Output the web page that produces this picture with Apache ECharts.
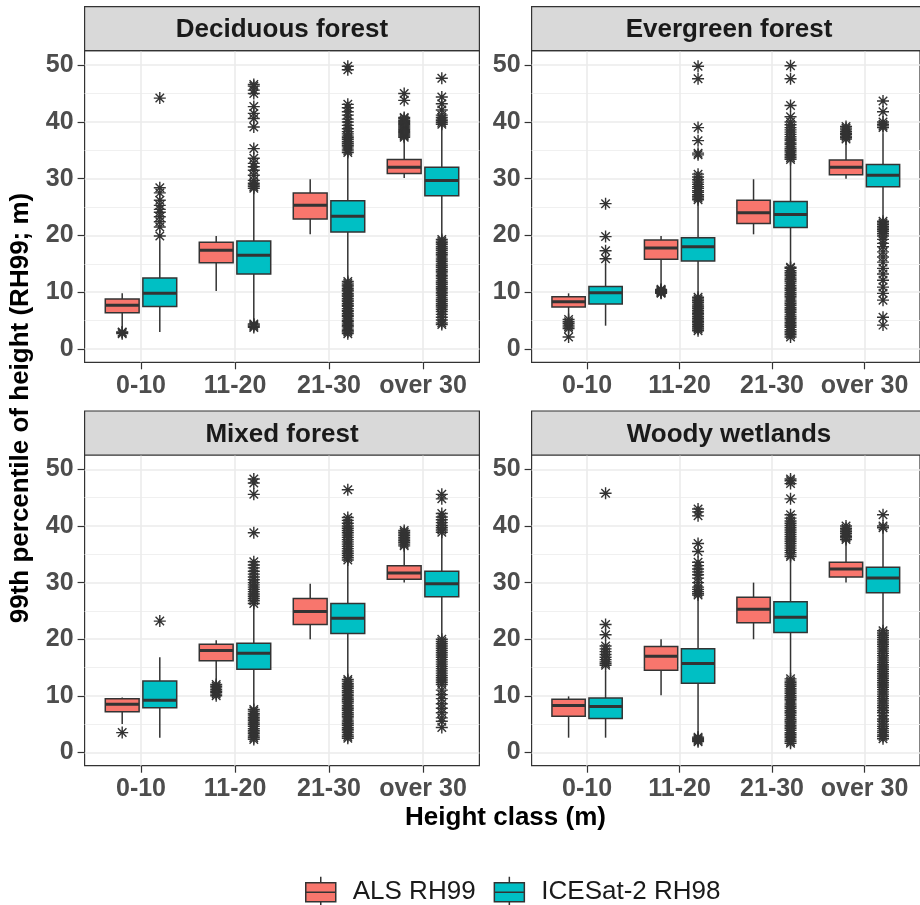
<!DOCTYPE html>
<html>
<head>
<meta charset="utf-8">
<script src="https://cdn.jsdelivr.net/npm/echarts@6/dist/echarts.min.js"></script>
<style>
  html, body { margin: 0; padding: 0; background: #ffffff; }
  #chart { width: 920px; height: 905px; }
</style>
</head>
<body>
<div id="chart"></div>
<script>
// ---- data -------------------------------------------------------------
const categories = ['0-10', '11-20', '21-30', 'over 30'];
const facetTitles = ['Deciduous forest', 'Evergreen forest', 'Mixed forest', 'Woody wetlands'];
const seriesNames = ['ALS RH99', 'ICESat-2 RH98'];
const yTickValues = [0, 10, 20, 30, 40, 50];
const yMinorValues = [5, 15, 25, 35, 45];

// box statistics per class: [lower whisker, Q1, median, Q3, upper whisker]
const decAlsBoxes = [[3.7, 6.4, 7.7, 8.8, 9.8], [10.2, 15.2, 17.4, 18.8, 19.9], [20.2, 22.9, 25.3, 27.5, 29.9], [30.1, 30.9, 32.0, 33.4, 37.1]];
const decIceBoxes = [[3.0, 7.5, 9.8, 12.5, 18.9], [4.5, 13.2, 16.5, 19.0, 28.1], [12.1, 20.6, 23.4, 26.1, 34.4], [19.6, 27.0, 29.7, 32.0, 39.3]];
const eveAlsBoxes = [[5.5, 7.4, 8.3, 9.2, 9.8], [11.0, 15.8, 17.8, 19.2, 19.9], [20.2, 22.1, 24.0, 26.2, 29.9], [30.0, 30.7, 32.0, 33.3, 36.8]];
const eveIceBoxes = [[4.1, 7.9, 9.9, 11.0, 15.0], [9.3, 15.5, 18.0, 19.6, 26.0], [14.5, 21.4, 23.7, 26.0, 33.2], [22.7, 28.6, 30.6, 32.5, 38.0]];
const mixAlsBoxes = [[5.0, 7.2, 8.5, 9.5, 9.7], [12.2, 16.2, 18.0, 19.1, 19.8], [20.0, 22.6, 24.9, 27.2, 29.8], [30.0, 30.6, 31.7, 33.0, 36.3]];
const mixIceBoxes = [[2.6, 7.9, 9.2, 12.6, 16.8], [8.3, 14.7, 17.5, 19.3, 26.0], [13.3, 21.0, 23.7, 26.3, 33.9], [20.4, 27.5, 29.8, 32.0, 38.6]];
const wetAlsBoxes = [[2.6, 6.4, 8.3, 9.4, 9.9], [10.1, 14.5, 17.0, 18.7, 20.0], [20.0, 22.9, 25.3, 27.4, 30.0], [30.0, 31.0, 32.4, 33.6, 37.4]];
const wetIceBoxes = [[2.6, 6.0, 8.1, 9.6, 14.4], [3.0, 12.2, 15.7, 18.3, 27.6], [13.5, 21.2, 23.9, 26.6, 34.3], [21.7, 28.2, 30.8, 32.7, 39.3]];

// outlying values per class
const decAlsOutliers = [
  [2.7, 2.9, 3.0],
  [],
  [],
  [37.3, 37.5, 37.7, 37.9, 38.1, 38.3, 38.5, 38.7, 38.9, 39.1, 39.3, 39.5, 39.7, 39.9, 40.1, 40.3, 40.6, 40.8, 43.8, 45.0]
];
const decIceOutliers = [
  [19.9, 21.5, 22.4, 23.3, 24.1, 24.6, 25.3, 26.2, 27.5, 28.4, 44.2],
  [3.8, 4.0, 4.2, 4.4, 28.3, 28.6, 28.9, 29.2, 29.7, 30.6, 31.5, 32.1, 32.7, 33.6, 35.3, 39.1, 40.6, 41.5, 42.7, 45.0, 45.6, 46.3, 46.6],
  [2.7, 3.0, 3.2, 3.5, 3.9, 4.1, 4.4, 4.8, 5.0, 5.3, 5.7, 5.9, 6.2, 6.6, 6.8, 7.1, 7.5, 7.7, 8.0, 8.4, 8.6, 8.9, 9.3, 9.5, 9.8, 10.2, 10.4, 10.7, 11.1, 11.3, 11.6, 11.9,
   34.6, 34.9, 35.2, 35.6, 35.9, 36.2, 36.5, 36.9, 37.2, 37.5, 37.9, 38.3, 38.8, 39.4, 40.0, 40.5, 41.2, 41.8, 42.5, 43.1, 49.2, 49.8],
  [4.3, 4.6, 5.1, 5.6, 6.1, 6.6, 7.0, 7.4, 7.7, 8.0, 8.4, 8.7, 9.0, 9.4, 9.7, 10.0, 10.4, 10.7, 11.0, 11.4, 11.7, 12.0, 12.4, 12.7, 13.0, 13.4, 13.7, 14.0, 14.4, 14.7,
   15.0, 15.4, 15.7, 16.0, 16.4, 16.7, 17.0, 17.4, 17.7, 18.0, 18.4, 18.7, 19.0, 19.3,
   39.6, 39.9, 40.2, 40.5, 40.8, 41.2, 42.1, 43.2, 44.4, 47.7]
];
const eveAlsOutliers = [
  [2.1, 3.6, 3.9, 4.2, 4.5, 4.8, 5.2],
  [9.8, 9.9, 10.0, 10.1, 10.2, 10.3, 10.4, 10.5],
  [],
  [37.0, 37.3, 37.5, 37.8, 38.0, 38.3, 38.6, 38.9, 39.2]
];
const eveIceOutliers = [
  [15.9, 17.3, 19.8, 25.6],
  [3.2, 3.5, 3.7, 4.0, 4.3, 4.6, 4.8, 5.1, 5.4, 5.7, 6.0, 6.2, 6.5, 6.8, 7.1, 7.4, 7.6, 7.9, 8.2, 8.5, 8.8, 9.1,
   26.3, 26.6, 26.9, 27.2, 27.6, 27.9, 28.3, 28.6, 29.0, 29.4, 29.8, 30.3, 30.8, 34.2, 34.5, 36.7, 39.0, 47.6, 49.8],
  [2.1, 2.5, 2.8, 3.1, 3.4, 3.8, 4.1, 4.4, 4.7, 5.1, 5.4, 5.7, 6.0, 6.4, 6.7, 7.0, 7.3, 7.7, 8.0, 8.3, 8.6, 9.0, 9.3, 9.6, 9.9, 10.3, 10.6, 10.9, 11.2, 11.6,
   11.9, 12.2, 12.5, 12.9, 13.2, 13.5, 13.8, 14.2, 14.4,
   33.4, 33.7, 34.0, 34.3, 34.7, 35.0, 35.3, 35.6, 36.0, 36.3, 36.7, 37.0, 37.4, 37.8, 38.2, 38.6, 39.0, 39.5, 40.0, 40.9, 42.9, 47.6, 49.9],
  [4.2, 5.6, 8.6, 9.8, 10.9, 12.1, 13.2, 14.2, 15.3, 16.2, 17.1, 18.0, 18.6, 19.3, 19.9, 20.3, 20.7, 21.0, 21.3, 21.6, 21.9, 22.2, 22.5,
   39.0, 39.3, 39.6, 40.0, 41.8, 43.7]
];
const mixAlsOutliers = [
  [3.5],
  [10.0, 10.3, 10.6, 10.8, 11.1, 11.4, 11.7, 12.0],
  [],
  [36.5, 36.8, 37.1, 37.4, 37.7, 38.0, 38.3, 38.6, 38.9, 39.2]
];
const mixIceOutliers = [
  [23.2],
  [2.3, 2.6, 2.9, 3.3, 3.6, 3.9, 4.2, 4.6, 4.9, 5.2, 5.6, 5.9, 6.2, 6.6, 6.9, 7.3, 7.6,
   26.3, 26.8, 27.2, 27.6, 28.0, 28.4, 28.8, 29.2, 29.6, 30.0, 30.5, 31.0, 31.5, 32.0, 32.6, 33.1, 33.7, 38.8, 45.6, 47.6, 48.3],
  [2.5, 2.8, 3.1, 3.5, 3.8, 4.1, 4.4, 4.8, 5.1, 5.4, 5.7, 6.1, 6.4, 6.7, 7.0, 7.4, 7.7, 8.0, 8.3, 8.7, 9.0, 9.3, 9.6, 10.0, 10.3, 10.6, 10.9, 11.3, 11.6, 11.9,
   12.2, 12.6, 12.9,
   34.0, 34.4, 34.8, 35.2, 35.6, 36.0, 36.4, 36.8, 37.2, 37.6, 38.0, 38.4, 38.8, 39.2, 39.6, 40.0, 40.5, 41.0, 41.5, 46.4],
  [4.4, 5.5, 6.1, 7.0, 7.8, 8.6, 9.5, 10.2, 11.0, 12.0, 12.4, 12.8, 13.2, 13.6, 14.0, 14.4, 14.8, 15.2, 15.6, 16.0, 16.4, 16.8, 17.2, 17.6, 18.0, 18.4, 18.8,
   19.2, 19.6, 20.0,
   38.9, 39.3, 39.7, 40.1, 40.6, 41.1, 41.6, 42.2, 44.8, 45.6]
];
const wetAlsOutliers = [
  [],
  [],
  [],
  [37.6, 37.9, 38.1, 38.4, 38.7, 39.0, 39.3, 39.6, 40.0]
];
const wetIceOutliers = [
  [15.4, 15.7, 16.0, 16.4, 16.8, 17.3, 17.8, 18.3, 18.8, 20.8, 22.6, 45.8],
  [1.9, 2.1, 2.3, 2.5, 2.7,
   27.8, 28.1, 28.4, 28.8, 29.2, 30.0, 30.8, 31.4, 31.9, 32.4, 33.0, 33.6, 35.5, 36.9, 41.8, 42.5, 43.0],
  [1.6, 1.9, 2.2, 2.6, 2.9, 3.2, 3.5, 3.9, 4.2, 4.5, 4.8, 5.2, 5.5, 5.8, 6.1, 6.5, 6.8, 7.1, 7.4, 7.8, 8.1, 8.4, 8.7, 9.1, 9.4, 9.7, 10.0, 10.4, 10.7, 11.0,
   11.3, 11.7, 12.0, 12.3, 12.6, 13.0,
   34.6, 34.9, 35.3, 35.7, 36.1, 36.5, 36.9, 37.3, 37.7, 38.1, 38.5, 38.9, 39.3, 39.7, 40.1, 40.5, 40.9, 41.4, 42.0, 44.8, 47.5, 48.0, 48.3],
  [2.4, 2.8, 3.1, 3.5, 3.8, 4.2, 4.6, 5.0, 5.5, 5.9, 6.5, 7.0, 7.4, 7.9, 8.3, 8.7, 9.1, 9.5, 9.9, 10.3, 10.7, 11.1, 11.5, 11.9, 12.3, 12.7, 13.1, 13.5, 13.9,
   14.3, 14.7, 15.1, 15.5, 15.9, 16.3, 16.7, 17.1, 17.5, 17.9, 18.3, 18.7, 19.1, 19.5, 19.9, 20.3, 20.7, 21.1, 21.5,
   39.7, 40.0, 42.0]
];

const alsBoxes = [decAlsBoxes, eveAlsBoxes, mixAlsBoxes, wetAlsBoxes];
const iceBoxes = [decIceBoxes, eveIceBoxes, mixIceBoxes, wetIceBoxes];
const alsOutliers = [decAlsOutliers, eveAlsOutliers, mixAlsOutliers, wetAlsOutliers];
const iceOutliers = [decIceOutliers, eveIceOutliers, mixIceOutliers, wetIceOutliers];

// ---- layout & style ---------------------------------------------------
const FONT = '"Liberation Sans", Arial, Helvetica, sans-serif';
const ALS_COLOR = '#F8766D';
const ICE_COLOR = '#00BFC4';
const INK = '#333333';
const Y_MIN = -2.35, Y_MAX = 52.55;
const X_MIN = -0.6, X_MAX = 3.6;
const DODGE = 0.2;      // half distance between paired boxes (category units)
const BOX_HALF = 0.18;  // half box width (category units)
const STRIP_H = 44;

const panels = [
  { left: 84.6, top: 50.7, width: 394.8, height: 311.6 },
  { left: 531.6, top: 50.7, width: 394.8, height: 311.6 },
  { left: 84.6, top: 455.0, width: 394.8, height: 310.7 },
  { left: 531.6, top: 455.0, width: 394.8, height: 310.7 }
];

const STAR = 'path://M5 0L5 10M0 5L10 5M1.46 1.46L8.54 8.54M1.46 8.54L8.54 1.46';

function boxRenderer(shift, fill) {
  return function (params, api) {
    const x = api.value(0) + shift;
    const lo = api.coord([x, api.value(1)]);
    const q1 = api.coord([x, api.value(2)]);
    const md = api.coord([x, api.value(3)]);
    const q3 = api.coord([x, api.value(4)]);
    const hi = api.coord([x, api.value(5)]);
    const half = api.size([BOX_HALF, 0])[0];
    const stroke = { stroke: INK, lineWidth: 1.5 };
    return {
      type: 'group',
      children: [
        { type: 'line', shape: { x1: hi[0], y1: hi[1], x2: q3[0], y2: q3[1] }, style: stroke },
        { type: 'line', shape: { x1: q1[0], y1: q1[1], x2: lo[0], y2: lo[1] }, style: stroke },
        { type: 'rect', shape: { x: q3[0] - half, y: q3[1], width: half * 2, height: q1[1] - q3[1] },
          style: { fill: fill, stroke: INK, lineWidth: 1.5 } },
        { type: 'line', shape: { x1: md[0] - half, y1: md[1], x2: md[0] + half, y2: md[1] },
          style: { stroke: INK, lineWidth: 3 } }
      ]
    };
  };
}

const grids = panels.map(p => ({
  left: p.left, top: p.top, width: p.width, height: p.height,
  show: true, backgroundColor: '#ffffff', borderColor: INK, borderWidth: 1.2
}));

const xAxes = panels.map((p, i) => ({
  type: 'value', gridIndex: i, min: X_MIN, max: X_MAX,
  axisLine: { show: false, onZero: false },
  axisTick: { show: true, length: 7, lineStyle: { color: INK, width: 1.2 }, customValues: [0, 1, 2, 3] },
  axisLabel: {
    customValues: [0, 1, 2, 3], formatter: v => categories[Math.round(v)],
    fontFamily: FONT, fontWeight: 'bold', fontSize: 25, color: '#4D4D4D', margin: 11
  },
  splitLine: { show: true, lineStyle: { color: '#EBEBEB', width: 1.6 } }
}));

const yAxes = [];
panels.forEach((p, i) => {
  yAxes.push({
    type: 'value', gridIndex: i, min: Y_MIN, max: Y_MAX,
    axisLine: { show: false, onZero: false },
    axisTick: { show: true, length: 7, lineStyle: { color: INK, width: 1.2 }, customValues: yTickValues },
    axisLabel: {
      customValues: yTickValues, fontFamily: FONT, fontWeight: 'bold', fontSize: 25,
      color: '#4D4D4D', margin: 11
    },
    splitLine: { show: true, lineStyle: { color: '#EBEBEB', width: 1.6 } }
  });
  yAxes.push({
    type: 'value', gridIndex: i, min: Y_MIN, max: Y_MAX,
    axisLine: { show: false, onZero: false },
    axisTick: { show: false, customValues: yMinorValues },
    axisLabel: { show: false },
    splitLine: { show: true, lineStyle: { color: '#EEEEEE', width: 0.9 } }
  });
});

const series = [];
panels.forEach((p, i) => {
  const groups = [
    { name: seriesNames[0], boxes: alsBoxes[i], outliers: alsOutliers[i], shift: -DODGE, color: ALS_COLOR },
    { name: seriesNames[1], boxes: iceBoxes[i], outliers: iceOutliers[i], shift: DODGE, color: ICE_COLOR }
  ];
  groups.forEach(g => {
    const points = [];
    g.outliers.forEach((vals, c) => vals.forEach(v => points.push([c + g.shift, v])));
    series.push({
      type: 'scatter', name: g.name + ' outliers', xAxisIndex: i, yAxisIndex: 2 * i,
      data: points, symbol: STAR, symbolSize: 12, z: 2, silent: true,
      itemStyle: { color: 'rgba(0,0,0,0)', borderColor: INK, borderWidth: 1.4, opacity: 1 },
      animation: false
    });
  });
  groups.forEach(g => {
    series.push({
      type: 'custom', name: g.name, xAxisIndex: i, yAxisIndex: 2 * i, z: 3,
      data: g.boxes.map((b, c) => [c].concat(b)),
      encode: { x: 0, y: [1, 2, 3, 4, 5] },
      renderItem: boxRenderer(g.shift, g.color),
      itemStyle: { color: g.color, borderColor: INK, borderWidth: 1.5 },
      animation: false
    });
  });
});

const graphics = [];
panels.forEach((p, i) => {
  graphics.push({
    type: 'rect', silent: true,
    shape: { x: p.left, y: p.top - STRIP_H, width: p.width, height: STRIP_H },
    style: { fill: '#D9D9D9', stroke: INK, lineWidth: 1.2 }, z: 10
  });
  graphics.push({
    type: 'text', silent: true, z: 11,
    x: p.left + p.width / 2, y: p.top - STRIP_H / 2 + 1.5,
    style: {
      text: facetTitles[i], fill: '#1A1A1A', font: 'bold 26px ' + FONT,
      textAlign: 'center', textVerticalAlign: 'middle'
    }
  });
});
graphics.push({
  type: 'text', silent: true, x: 21, y: 408, rotation: Math.PI / 2,
  style: {
    text: '99th percentile of height (RH99; m)', fill: '#000000', font: 'bold 26px ' + FONT,
    textAlign: 'center', textVerticalAlign: 'middle'
  }
});
graphics.push({
  type: 'text', silent: true, x: 505.5, y: 818,
  style: {
    text: 'Height class (m)', fill: '#000000', font: 'bold 26px ' + FONT,
    textAlign: 'center', textVerticalAlign: 'middle'
  }
});

const option = {
  backgroundColor: '#ffffff',
  animation: false,
  grid: grids,
  xAxis: xAxes,
  yAxis: yAxes,
  series: series,
  graphic: graphics,
  legend: {
    data: seriesNames,
    left: 300, top: 871,
    orient: 'horizontal',
    itemWidth: 30, itemHeight: 31, itemGap: 18,
    icon: 'path://M0 6L30 6L30 25L0 25ZM0 15.5L30 15.5M15 0L15 6M15 25L15 31',
    itemStyle: { borderColor: INK, borderWidth: 1.5 },
    textStyle: { fontFamily: FONT, fontSize: 26, color: '#1A1A1A', padding: [0, 0, 0, 12] },
    selectedMode: false
  }
};

const chart = echarts.init(document.getElementById('chart'), null, { renderer: 'canvas' });
chart.setOption(option);
</script>
</body>
</html>
